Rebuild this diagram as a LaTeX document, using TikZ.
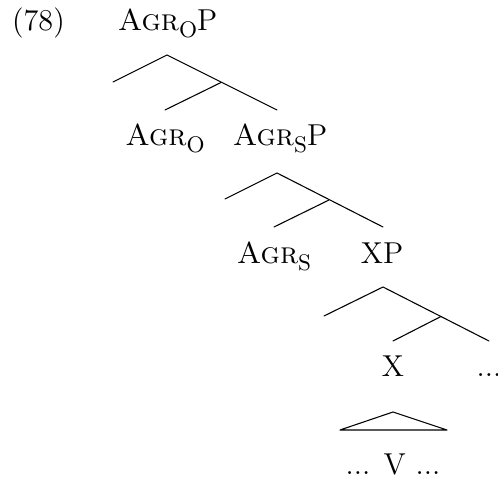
\documentclass[tikz,border=0pt]{standalone}
\newcommand{\lsub}[1]{\raisebox{-2.8pt}{\fontsize{9.4}{10}\selectfont #1}}
\begin{document}
\begin{tikzpicture}[x=0.41667pt,y=-0.41667pt,
  lbl/.style={inner sep=0pt,anchor=base,font=\fontsize{12.6}{14}\selectfont},
  branch/.style={line width=0.45pt,line cap=round}]
\useasboundingbox (0,0) rectangle (498,483);
% labels
\node[lbl] (ex)    at (38.5,31) {(78)};
\node[lbl] (agrop) at (167.5,31) {\textsc{Agr}\lsub{O}P};
\node[lbl] (agro)  at (165,146) {\textsc{Agr}\lsub{O}};
\node[lbl] (agrsp) at (280,146) {\textsc{Agr}\lsub{S}P};
\node[lbl] (agrs)  at (274,264) {\textsc{Agr}\lsub{S}};
\node[lbl] (xp)    at (382,264) {XP};
\node[lbl] (x)     at (393,377) {X};
\node[lbl] (dots)  at (489,377) {...};
\node[lbl] (vv)    at (393,475) {... V ...};
% tree 1
\coordinate (a1) at (167,55);
\coordinate (l1) at (113,82);
\coordinate (m1) at (221,82.5);
\coordinate (r1) at (277,110);
\coordinate (s1) at (165,110);
\draw[branch] (l1) -- (a1) -- (r1);
\draw[branch] (m1) -- (s1);
% tree 2
\coordinate (a2) at (277,173);
\coordinate (l2) at (225,199);
\coordinate (m2) at (329,200);
\coordinate (r2) at (383,227);
\coordinate (s2) at (274,227);
\draw[branch] (l2) -- (a2) -- (r2);
\draw[branch] (m2) -- (s2);
% tree 3
\coordinate (a3) at (383,287);
\coordinate (l3) at (324,316);
\coordinate (m3) at (441,316.5);
\coordinate (r3) at (489,341);
\coordinate (s3) at (393,341);
\draw[branch] (l3) -- (a3) -- (r3);
\draw[branch] (m3) -- (s3);
% triangle
\coordinate (ta) at (393,412);
\coordinate (tl) at (340,430);
\coordinate (tr) at (447,430);
\draw[branch,line join=round] (ta) -- (tl) -- (tr) -- cycle;
\end{tikzpicture}
\end{document}
